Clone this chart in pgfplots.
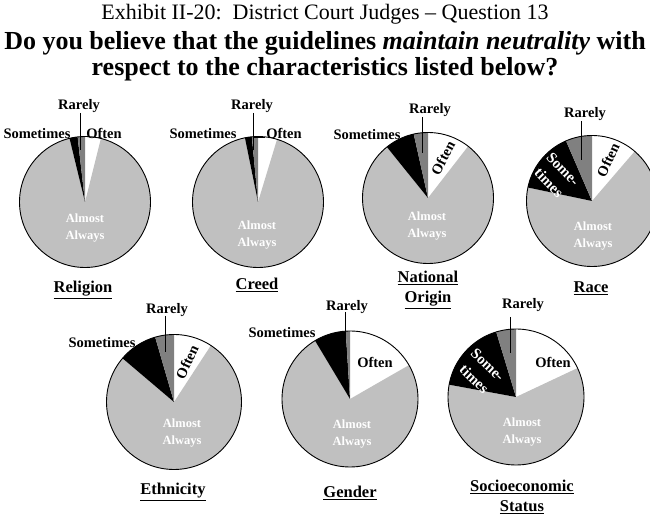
\documentclass[border=0pt]{standalone}
\usepackage{pgfplots}
\pgfplotsset{compat=1.18}
\usepackage{fontspec}
\setmainfont{Liberation Serif}
\definecolor{aa}{HTML}{C0C0C0}
\definecolor{rare}{HTML}{808080}

% \pie{cx}{cy}{radius}{Often}{Almost Always}{Sometimes}{Rarely}  (percent)
\newcommand{\pie}[7]{%
  \pgfmathsetmacro{\aA}{90-3.6*#4}%
  \pgfmathsetmacro{\aB}{\aA-3.6*#5}%
  \pgfmathsetmacro{\aC}{\aB-3.6*#6}%
  \pgfmathsetmacro{\aD}{\aC-3.6*#7}%
  \pgfmathsetmacro{\dd}{2*#3}%
  \begin{axis}[at={(#1bp,#2bp)}, anchor=center, scale only axis,
    width=\dd bp, height=\dd bp, xmin=-1, xmax=1, ymin=-1, ymax=1,
    hide axis, clip=false]
    \fill[white] (axis cs:0,0) -- (axis cs:{cos(90)},{sin(90)}) arc[start angle=90, end angle=\aA, radius=#3bp] -- cycle;
    \fill[aa] (axis cs:0,0) -- (axis cs:{cos(\aA)},{sin(\aA)}) arc[start angle=\aA, end angle=\aB, radius=#3bp] -- cycle;
    \fill[black] (axis cs:0,0) -- (axis cs:{cos(\aB)},{sin(\aB)}) arc[start angle=\aB, end angle=\aC, radius=#3bp] -- cycle;
    \fill[rare] (axis cs:0,0) -- (axis cs:{cos(\aC)},{sin(\aC)}) arc[start angle=\aC, end angle=\aD, radius=#3bp] -- cycle;
    \draw[black, line width=0.9bp] (axis cs:0,0) circle[radius=#3bp];
  \end{axis}%
}
\newcommand{\ul}[1]{\underline{#1}}

\begin{document}
\begin{tikzpicture}
\path[use as bounding box] (0,0) rectangle (650bp,518bp);

% Data: Often, Almost Always, Sometimes, Rarely (percent)
\pie{85}{316}{65.5}{3.9}{92.3}{2.0}{1.8}
\pie{258}{316}{65.5}{4.7}{92.1}{1.7}{1.5}
\pie{428}{320}{65.5}{10.5}{78.7}{7.3}{3.5}
\pie{592}{317}{65.5}{11.3}{67.0}{15.2}{6.5}
\pie{174}{116}{67.5}{9.2}{77.0}{9.3}{4.5}
\pie{350}{119}{68}{16.7}{74.7}{7.6}{1.0}
\pie{516}{121}{68}{18.0}{59.9}{17.4}{4.7}

\begin{scope}[shift={(0bp,518bp)}, x=1bp, y=-1bp]
  \tikzset{
    sl/.style={font=\bfseries\fontsize{14.5bp}{16bp}\selectfont, inner sep=0pt},
    st/.style={text=white, align=center, inner sep=0pt, font=\bfseries\fontsize{15bp}{19.5bp}\selectfont},
    al/.style={font=\bfseries\fontsize{12.5bp}{17bp}\selectfont, text=white, align=center, inner sep=0pt},
    cat/.style={font=\bfseries\fontsize{16.5bp}{20bp}\selectfont, align=center, inner sep=0pt},
    ld/.style={line width=0.9bp, black}
  }
  % Titles
  \node[font=\fontsize{22bp}{24bp}\selectfont, inner sep=0pt, anchor=base] at (325,20) {Exhibit II-20:\ \ District Court Judges -- Question 13};
  \node[font=\bfseries\fontsize{26bp}{28bp}\selectfont, inner sep=0pt, anchor=base] at (325,50) {Do you believe that the guidelines \textit{maintain neutrality} with};
  \node[font=\bfseries\fontsize{26bp}{28bp}\selectfont, inner sep=0pt, anchor=base] at (325,76) {respect to the characteristics listed below?};

  % Religion
  \draw[ld] (80,113) -- (80,150);
  \node[sl] at (79,106) {Rarely};
  \node[sl] at (37,134) {Sometimes};
  \node[sl] at (104,133) {Often};
  \node[al] at (85,228) {Almost\\Always};
  \node[cat] at (83,290) {\ul{Religion}};

  % Creed
  \draw[ld] (253,113) -- (253,150);
  \draw[ld] (253,137) -- (265,137);
  \node[sl] at (252,106) {Rarely};
  \node[sl] at (203,134) {Sometimes};
  \node[sl] at (284,133) {Often};
  \node[al] at (257,235) {Almost\\Always};
  \node[cat] at (257,285) {\ul{Creed}};

  % National Origin
  \draw[ld] (422,117) -- (422,153);
  \node[sl] at (430,110) {Rarely};
  \node[sl] at (367,135) {Sometimes};
  \node[sl, rotate=62] at (443,158) {Often};
  \node[al] at (427,226) {Almost\\Always};
  \node[cat] at (428,290) {\ul{National}\\\ul{Origin}};

  % Race
  \draw[ld] (581,121) -- (581,160);
  \node[sl] at (585,114) {Rarely};
  \node[st, rotate=-46] at (556,176) {Some-\\times};
  \node[sl, rotate=65] at (608,160) {Often};
  \node[al] at (593,236) {Almost\\Always};
  \node[cat] at (591,288) {\ul{Race}};

  % Ethnicity
  \draw[ld] (165,316) -- (165,352);
  \node[sl] at (167,310) {Rarely};
  \node[sl] at (102,343) {Sometimes};
  \node[sl, rotate=65] at (187,362) {Often};
  \node[al] at (182,433) {Almost\\Always};
  \node[cat] at (173,492) {\ul{Ethnicity}};

  % Gender
  \draw[ld] (345,312) -- (345,336);
  \node[sl] at (347,307) {Rarely};
  \node[sl] at (282,333) {Sometimes};
  \node[sl] at (375,362) {Often};
  \node[al] at (352,434) {Almost\\Always};
  \node[cat] at (350,493) {\ul{Gender}};

  % Socioeconomic Status
  \draw[ld] (510,317) -- (510,353);
  \node[sl] at (523,305) {Rarely};
  \node[st, rotate=-44] at (481,372) {Some-\\times};
  \node[sl] at (553,362) {Often};
  \node[al] at (522,432) {Almost\\Always};
  \node[cat] at (522,497) {\ul{Socioeconomic}\\\ul{Status}};
\end{scope}
\end{tikzpicture}
\end{document}
